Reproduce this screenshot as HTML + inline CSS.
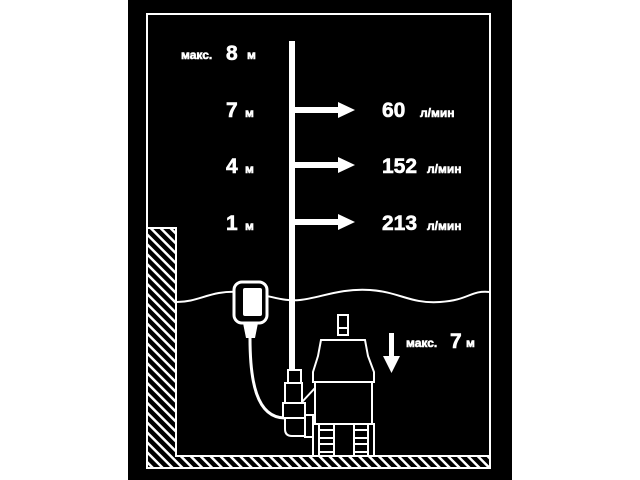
<!DOCTYPE html>
<html><head><meta charset="utf-8"><style>
html,body{margin:0;padding:0;background:#fff;width:640px;height:480px;overflow:hidden}
svg{display:block}
text{font-family:"Liberation Sans","DejaVu Sans",sans-serif;font-weight:bold;fill:#fff;stroke:#fff;stroke-width:0.6}
</style></head><body>
<svg width="640" height="480" viewBox="0 0 640 480" xmlns="http://www.w3.org/2000/svg">
<defs>
<pattern id="h" patternUnits="userSpaceOnUse" width="7" height="7" patternTransform="rotate(-45)">
<rect width="7" height="7" fill="#000"/><rect width="2.5" height="7" fill="#fff"/>
</pattern>
</defs>
<rect x="128" y="0" width="384" height="480" fill="#000"/>
<path d="M147 468 V14 H490 V468" fill="none" stroke="#fff" stroke-width="2"/>
<path d="M147 228 H176 V456 H490 V468 H147 Z" fill="url(#h)" stroke="#fff" stroke-width="2"/>
<rect x="289" y="41" width="6" height="330" fill="#fff"/>
<g fill="#fff">
<rect x="295" y="107" width="44" height="6"/><polygon points="338,102 355,110 338,118"/>
<rect x="295" y="162" width="44" height="6"/><polygon points="338,157 355,165 338,173"/>
<rect x="295" y="219" width="44" height="6"/><polygon points="338,214 355,222 338,230"/>
</g>
<text x="181" y="59" font-size="12">макс.</text>
<text x="226" y="60" font-size="21">8</text>
<text x="247" y="59" font-size="12">м</text>
<text x="226" y="117" font-size="21">7</text>
<text x="245" y="117" font-size="12">м</text>
<text x="226" y="173" font-size="21">4</text>
<text x="245" y="173" font-size="12">м</text>
<text x="226" y="230" font-size="21">1</text>
<text x="245" y="230" font-size="12">м</text>
<text x="382" y="117" font-size="21">60</text>
<text x="420" y="117" font-size="12">л/мин</text>
<text x="382" y="173" font-size="21">152</text>
<text x="427" y="173" font-size="12">л/мин</text>
<text x="382" y="230" font-size="21">213</text>
<text x="427" y="230" font-size="12">л/мин</text>
<text x="406" y="347" font-size="12">макс.</text>
<text x="450" y="348" font-size="21">7</text>
<text x="466" y="347" font-size="12">м</text>
<rect x="389" y="333" width="5" height="24" fill="#fff"/>
<polygon points="383,356 400,356 391.5,373" fill="#fff"/>
<path d="M177 302 C200 302 210 290 240 292 S280 302 300 300 S340 288 370 290 S410 304 440 302 S470 290 490 292" fill="none" stroke="#fff" stroke-width="2"/>
<rect x="234" y="282" width="33" height="41" rx="8" fill="#000" stroke="#fff" stroke-width="3"/>
<rect x="243" y="288" width="19" height="28" rx="2" fill="#fff"/>
<polygon points="243,323 258,323 255,338 246,338" fill="#fff"/>
<path d="M250 338 C250 380 256 418 285 418" fill="none" stroke="#fff" stroke-width="3"/>
<g fill="#000" stroke="#fff" stroke-width="2">
<rect x="288" y="370" width="13" height="13"/>
<rect x="285" y="383" width="17" height="20"/>
<rect x="283" y="403" width="22" height="15"/>
<path d="M285 418 H305 V436 H292 Q285 436 285 429 Z"/>
<rect x="305" y="415" width="8" height="22"/>
</g>
<g fill="#000" stroke="#fff" stroke-width="2">
<rect x="338" y="315" width="10" height="20"/>
<line x1="338" y1="328" x2="348" y2="328"/>
<path d="M321 340 H365 L368 356 L374 372 V382 H313 V372 L318 356 Z"/>
<rect x="315" y="382" width="57" height="42"/>
<rect x="313" y="424" width="6" height="32"/>
<rect x="368" y="424" width="6" height="32"/>
<rect x="319" y="430" width="49" height="8"/>
<rect x="319" y="444" width="49" height="8"/>
<rect x="334" y="424" width="20" height="32"/>
<line x1="302" y1="402" x2="315" y2="388"/>
</g>
</svg>
</body></html>
